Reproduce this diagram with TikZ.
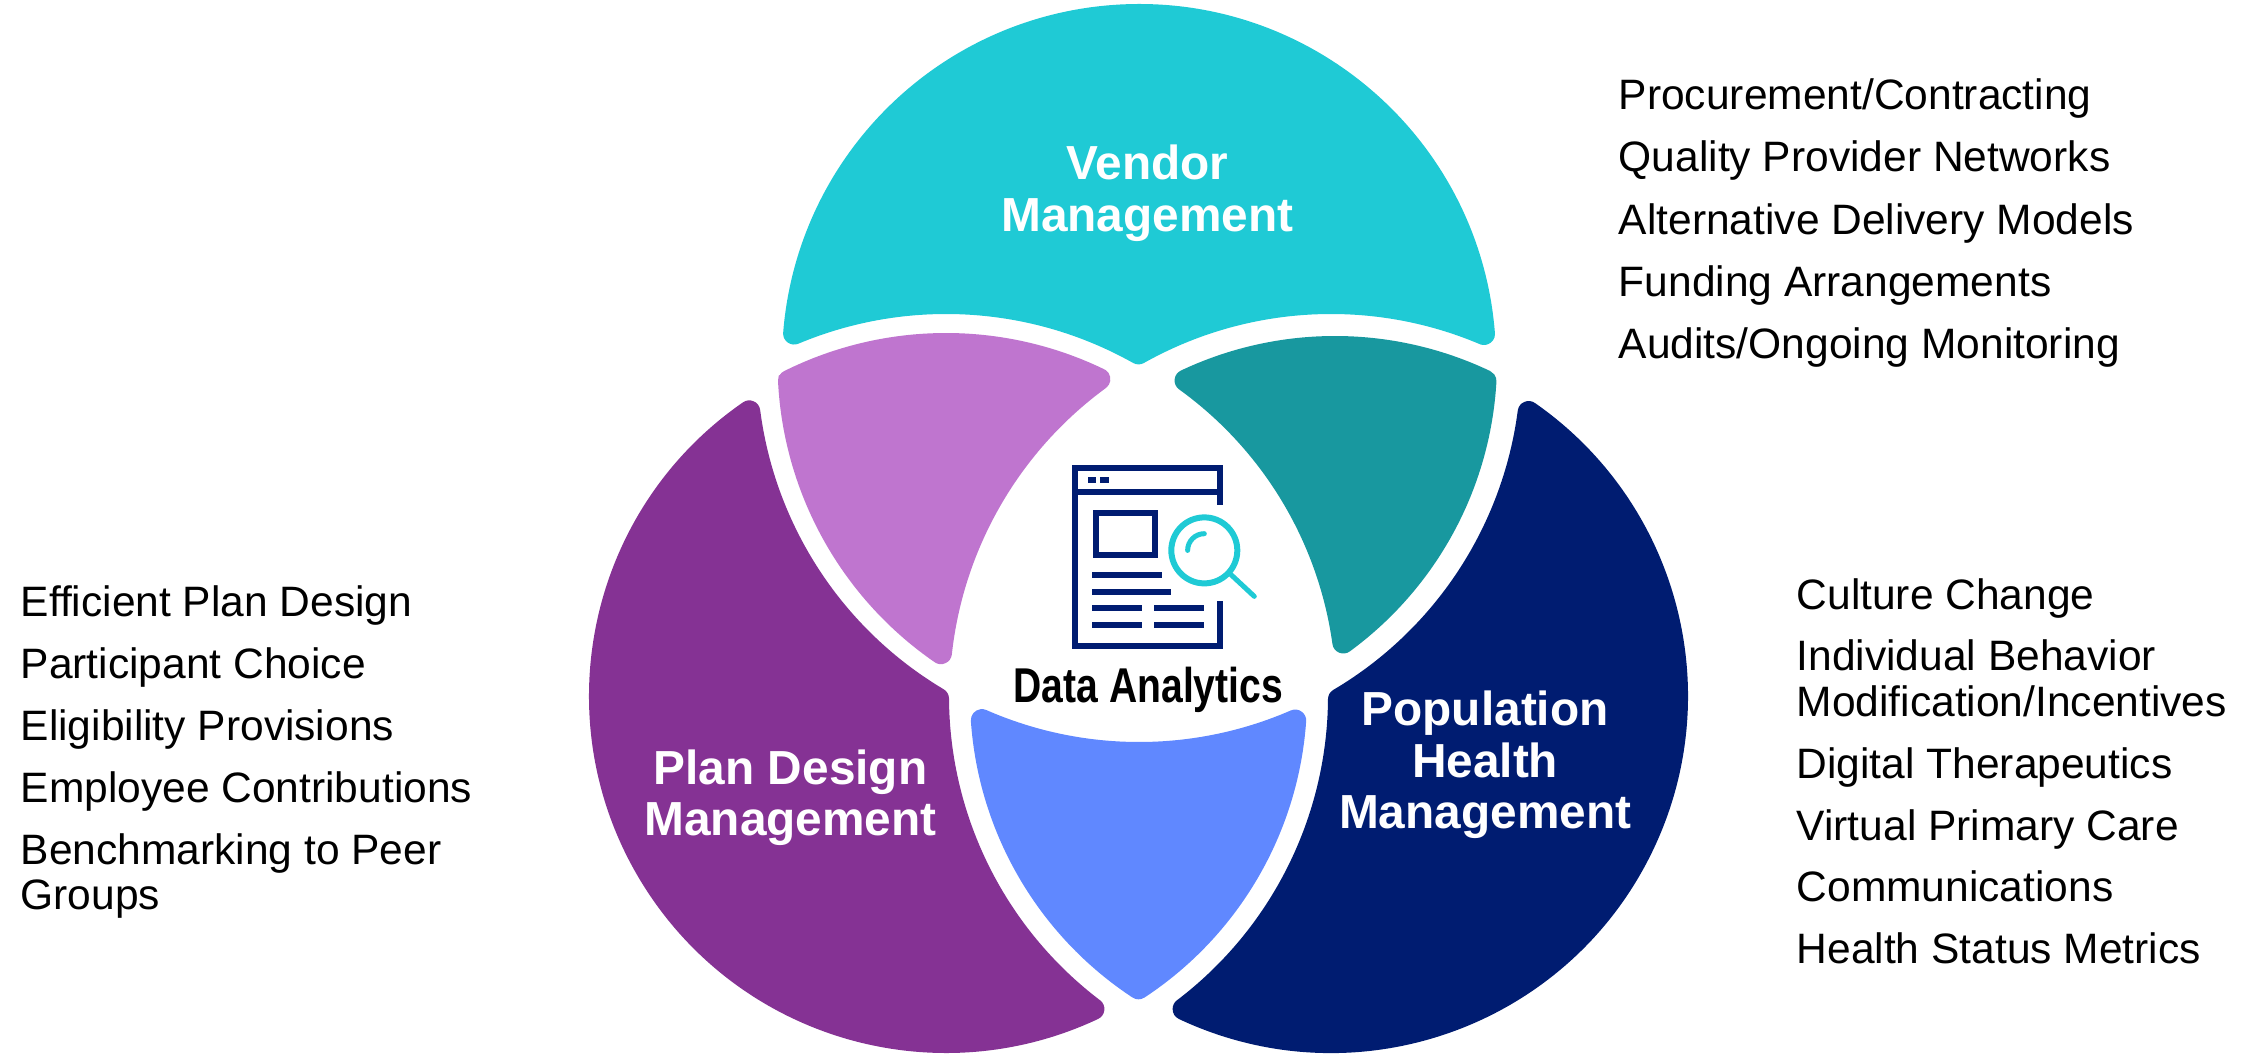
\documentclass[tikz,border=0pt]{standalone}
\usepackage{fontspec}
\setmainfont{Liberation Sans}
\definecolor{vendorc}{HTML}{1FCAD5}
\definecolor{lilac}{HTML}{BF75CF}
\definecolor{tealc}{HTML}{18989F}
\definecolor{planc}{HTML}{853294}
\definecolor{navyc}{HTML}{001C71}
\definecolor{bluec}{HTML}{6088FF}
\tikzset{
  bodytext/.style={anchor=base west,inner sep=0pt,font=\fontsize{12.1}{14}\selectfont,text=black},
  headtext/.style={anchor=base,inner sep=0pt,font=\fontsize{13.6}{15}\selectfont\bfseries,text=white},
  iconline/.style={draw=navyc,line width=0.06cm},
  lensline/.style={draw=vendorc,line width=0.06cm,line cap=round},
}
\newcommand\setcirc[5]{%
  \pgfmathsetmacro\vvt{(#2)/100}\expandafter\let\csname cx#1\endcsname\vvt
  \pgfmathsetmacro\vvt{(1053-(#3))/100}\expandafter\let\csname cy#1\endcsname\vvt
  \pgfmathsetmacro\vvt{((#4)-(#5)*\rhoval)/100}\expandafter\let\csname cr#1\endcsname\vvt
  \expandafter\def\csname sg#1\endcsname{#5}}
\newcommand\vtx[5]{%
  \edef\vvxa{\csname cx#2\endcsname}\edef\vvya{\csname cy#2\endcsname}\edef\vvra{\csname cr#2\endcsname}%
  \edef\vvxb{\csname cx#3\endcsname}\edef\vvyb{\csname cy#3\endcsname}\edef\vvrb{\csname cr#3\endcsname}%
  \pgfmathsetmacro\vvdx{\vvxb-\vvxa}\pgfmathsetmacro\vvdy{\vvyb-\vvya}%
  \pgfmathsetmacro\vvd{sqrt(\vvdx*\vvdx+\vvdy*\vvdy)}%
  \pgfmathsetmacro\vvm{(\vvra*\vvra-\vvrb*\vvrb+\vvd*\vvd)/(2*\vvd)}%
  \pgfmathsetmacro\vvh{sqrt(max(\vvra*\vvra-\vvm*\vvm,0))}%
  \pgfmathsetmacro\vvpx{\vvxa+\vvm*\vvdx/\vvd}\pgfmathsetmacro\vvpy{\vvya+\vvm*\vvdy/\vvd}%
  \pgfmathsetmacro\vvXa{\vvpx-\vvh*\vvdy/\vvd}\pgfmathsetmacro\vvYa{\vvpy+\vvh*\vvdx/\vvd}%
  \pgfmathsetmacro\vvXb{\vvpx+\vvh*\vvdy/\vvd}\pgfmathsetmacro\vvYb{\vvpy-\vvh*\vvdx/\vvd}%
  \pgfmathsetmacro\vvHx{(#4)/100}\pgfmathsetmacro\vvHy{(1053-(#5))/100}%
  \pgfmathsetmacro\vvDa{(\vvXa-\vvHx)^2+(\vvYa-\vvHy)^2}%
  \pgfmathsetmacro\vvDb{(\vvXb-\vvHx)^2+(\vvYb-\vvHy)^2}%
  \ifdim\vvDa pt<\vvDb pt
    \expandafter\let\csname vx#1\endcsname\vvXa\expandafter\let\csname vy#1\endcsname\vvYa
  \else
    \expandafter\let\csname vx#1\endcsname\vvXb\expandafter\let\csname vy#1\endcsname\vvYb
  \fi}
\newcommand\arcang[4]{%
  \edef\vvcx{\csname cx#1\endcsname}\edef\vvcy{\csname cy#1\endcsname}%
  \edef\vvpa{\csname vx#2\endcsname}\edef\vvpb{\csname vy#2\endcsname}%
  \edef\vvqa{\csname vx#3\endcsname}\edef\vvqb{\csname vy#3\endcsname}%
  \pgfmathsetmacro\vvs{atan2(\vvpb-\vvcy,\vvpa-\vvcx)}%
  \pgfmathsetmacro\vve{atan2(\vvqb-\vvcy,\vvqa-\vvcx)}%
  \ifnum\csname sg#1\endcsname>0
    \ifdim\vve pt<\vvs pt \pgfmathsetmacro\vve{\vve+360}\fi
  \else
    \ifdim\vve pt>\vvs pt \pgfmathsetmacro\vve{\vve-360}\fi
  \fi
  \expandafter\let\csname sa#4\endcsname\vvs
  \expandafter\let\csname ea#4\endcsname\vve}
\newcommand\threearc[1]{%
  \arcang{a}{C}{A}{a}\arcang{b}{A}{B}{b}\arcang{c}{B}{C}{c}%
  \path[fill=#1,draw=#1,line width=\rhoval*0.02cm,line join=round]
    (\vxC,\vyC) arc[start angle=\saa,end angle=\eaa,radius=\cra cm]
    arc[start angle=\sab,end angle=\eab,radius=\crb cm]
    arc[start angle=\sac,end angle=\eac,radius=\crc cm] -- cycle;}
\begin{document}
\begin{tikzpicture}
\useasboundingbox (0,0) rectangle (22.41,10.53);
\def\rhoval{11}
% Vendor petal
\setcirc{a}{1139}{361}{357}{1}\setcirc{b}{946}{696}{382}{-1}\setcirc{c}{1331}{696}{382}{-1}
\vtx{A}{a}{b}{785}{340}\vtx{B}{b}{c}{1139}{360}\vtx{C}{c}{a}{1493}{340}
\threearc{vendorc}
% Plan design petal
\setcirc{a}{946}{696}{357}{1}\setcirc{b}{1331}{696}{382}{-1}\setcirc{c}{1139}{361}{382}{-1}
\vtx{A}{a}{b}{1105}{1015}\vtx{B}{b}{c}{948}{700}\vtx{C}{c}{a}{748}{399}
\threearc{planc}
% Population petal
\setcirc{a}{1331}{696}{357}{1}\setcirc{b}{1139}{361}{382}{-1}\setcirc{c}{946}{696}{382}{-1}
\vtx{A}{a}{b}{1530}{399}\vtx{B}{b}{c}{1329}{700}\vtx{C}{c}{a}{1172}{1015}
\threearc{navyc}
% Lilac overlap
\setcirc{a}{946}{696}{363}{1}\setcirc{b}{1141}{363}{363.5}{1}\setcirc{c}{1331}{696}{381.5}{-1}
\vtx{A}{a}{b}{779}{376}\vtx{B}{b}{c}{940}{670}\vtx{C}{c}{a}{1110}{375}
\threearc{lilac}
% Teal overlap
\setcirc{a}{1335}{697}{361}{1}\setcirc{b}{958}{696}{378}{-1}\setcirc{c}{1137}{361}{360}{1}
\vtx{A}{a}{b}{1165}{370}\vtx{B}{b}{c}{1335}{670}\vtx{C}{c}{a}{1500}{370}
\threearc{tealc}
% Blue overlap
\setcirc{a}{1331}{696}{361}{1}\setcirc{b}{946}{696}{361}{1}\setcirc{c}{1139}{361}{381}{-1}
\vtx{A}{a}{b}{1139}{1005}\vtx{B}{b}{c}{1320}{700}\vtx{C}{c}{a}{958}{700}
\threearc{bluec}
\begin{scope}[shift={(0cm,10.53cm)},x=0.01cm,y=-0.01cm]
% sharp upper-left corner of the lilac overlap
\fill[lilac] (779,376) -- (815,358) -- (790,450) -- cycle;
% icon
\draw[iconline] (1221,505) -- (1221,468) -- (1076,468) -- (1076,646) -- (1221,646) -- (1221,601);
\draw[iconline] (1076,492.7) -- (1221,492.7);
\fill[navyc] (1088.3,477.3) rectangle (1096.7,483.3);
\fill[navyc] (1101,477.3) rectangle (1109.3,483.3);
\draw[iconline] (1096.7,513.3) rectangle (1155.3,555);
\draw[iconline] (1092.7,575.3) -- (1163,575.3);
\draw[iconline] (1092.7,592) -- (1171.7,592);
\draw[iconline] (1092.7,608.7) -- (1142.3,608.7);
\draw[iconline] (1155,608.7) -- (1204.7,608.7);
\draw[iconline] (1092.7,625.3) -- (1142.3,625.3);
\draw[iconline] (1155,625.3) -- (1204.7,625.3);
\draw[lensline] (1205,550.7) circle[radius=0.33cm];
\draw[lensline,line width=0.05cm] (1231.7,575) -- (1255,596.7);
\draw[lensline,line width=0.05cm] (1188.3,550.7) arc[start angle=180,end angle=90,radius=0.167cm];
% labels
\node[headtext] (vendorA) at (1148,180) {Vendor};
\node[headtext] (vendorB) at (1148,232) {Management};
\node[headtext] (planA) at (791,785) {Plan Design};
\node[headtext] (planB) at (791,836) {Management};
\node[headtext] (popA) at (1486,726) {Population};
\node[headtext] (popB) at (1486,778) {Health};
\node[headtext] (popC) at (1486,829) {Management};
\node[anchor=base,inner sep=0pt,font=\fontsize{13.9}{15}\selectfont\bfseries] (data) at (1149,703) {\scalebox{0.8}[1]{Data Analytics}};
% right top list
\node[bodytext] (t1) at (1619,110) {Procurement/Contracting};
\node[bodytext] (t2) at (1619,172) {Quality Provider Networks};
\node[bodytext] (t3) at (1619,235) {Alternative Delivery Models};
\node[bodytext] (t4) at (1619,297) {Funding Arrangements};
\node[bodytext] (t5) at (1619,359) {Audits/Ongoing Monitoring};
% left list
\node[bodytext] (l1) at (20,617) {Efficient Plan Design};
\node[bodytext] (l2) at (20,679) {Participant Choice};
\node[bodytext] (l3) at (20,741) {Eligibility Provisions};
\node[bodytext] (l4) at (20,803) {Employee Contributions};
\node[bodytext] (l5) at (20,865) {Benchmarking to Peer};
\node[bodytext] (l6) at (20,910) {Groups};
% right lower list
\node[bodytext] (r1) at (1797,609.5) {Culture Change};
\node[bodytext] (r2) at (1797,670.5) {Individual Behavior};
\node[bodytext] (r3) at (1797,716.5) {Modification/Incentives};
\node[bodytext] (r4) at (1797,778.5) {Digital Therapeutics};
\node[bodytext] (r5) at (1797,840.5) {Virtual Primary Care};
\node[bodytext] (r6) at (1797,902.5) {Communications};
\node[bodytext] (r7) at (1797,964.5) {Health Status Metrics};
\end{scope}
\end{tikzpicture}
\end{document}
